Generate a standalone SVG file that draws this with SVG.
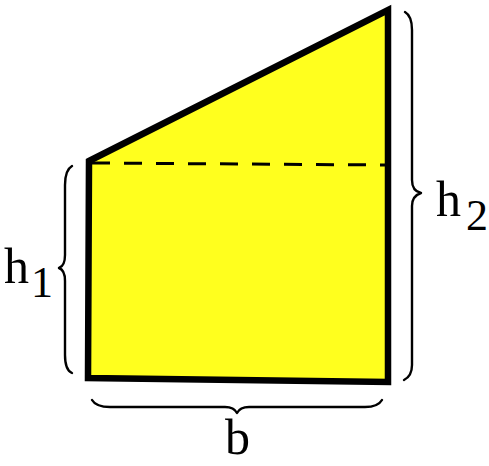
<svg xmlns="http://www.w3.org/2000/svg" width="489" height="466" viewBox="0 0 489 466">
<style>
.shape{fill:#ffff1e;stroke:#000;stroke-width:6.5;stroke-linejoin:miter}
.dash{fill:none;stroke:#000;stroke-width:3;stroke-dasharray:18 14}
.brace{fill:none;stroke:#000;stroke-width:2.4;stroke-linecap:round;stroke-linejoin:round}
text{font-family:'Liberation Serif','Times New Roman',serif;fill:#000}
</style>
<rect width="489" height="466" fill="#fff"/>
<g id="trapezoid">
<polygon class="shape" points="89,161 388,10 388,382 88,378"/>
<line class="dash" x1="92" y1="163" x2="385" y2="165"/>
</g>
<g id="braces">
<path class="brace" d="M72,166 Q65,170 65,185 L65,255 Q65,266 59,268 Q65,270 65,281 L65,355 Q65,370 72,373"/>
<path class="brace" d="M405,12 Q412,16 412,30 L412,180 Q412,191 421,193 Q412,196 412,206 L412,365 Q412,376 404,380"/>
<path class="brace" d="M92,400 Q96,407 110,407 L225,407 Q234,407 237,413 Q240,407 249,407 L365,407 Q378,407 382,400"/>
</g>
<g id="label-h1"><text x="4" y="283" font-size="50">h</text><text x="31" y="297" font-size="44">1</text></g>
<g id="label-h2"><text x="436" y="216" font-size="50">h</text><text x="466" y="230" font-size="44">2</text></g>
<g id="label-b"><text x="225" y="454" font-size="50">b</text></g>
</svg>
